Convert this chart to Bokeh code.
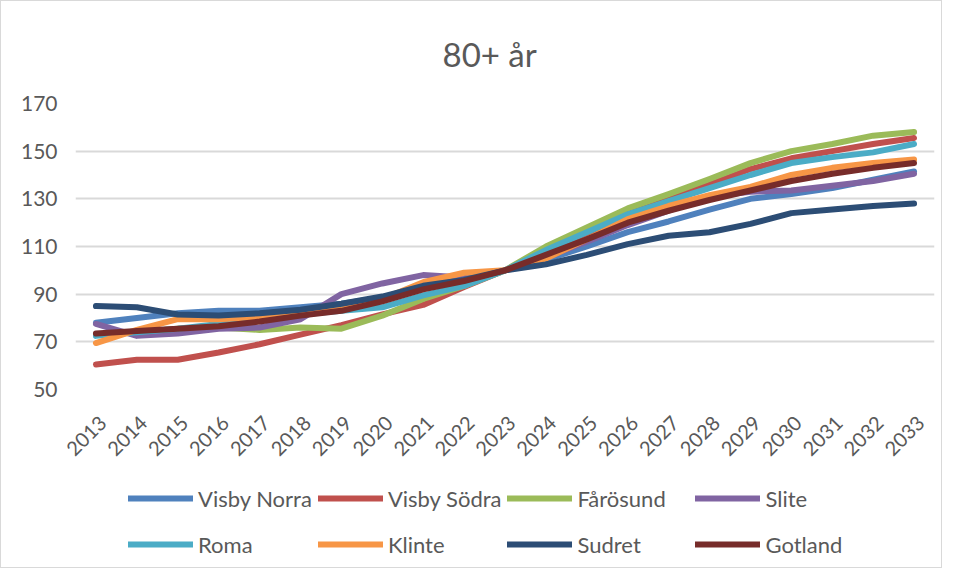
import math
from bokeh.plotting import figure
from bokeh.layouts import column
from bokeh.models import Range1d, Legend, LegendItem, FixedTicker, LinearAxis
from bokeh.embed import file_html
from bokeh.resources import INLINE

years = [str(y) for y in range(2013, 2034)]
y_ticks = [50, 70, 90, 110, 130, 150, 170]

visby_norra = [78, 80, 82, 83, 83, 84.5, 86, 88.5, 93.5, 96.5, 100, 104.5, 110, 116, 120.5, 125.5, 130, 132, 134.5, 138, 141.5]
visby_sodra = [60.5, 62.5, 62.5, 65.5, 69, 73, 77, 81.5, 85.5, 93, 100, 107, 115, 124.5, 130, 136, 142.5, 147, 150, 153, 155.5]
farosund = [73, 74, 75.5, 76, 75, 76, 75.5, 81, 88, 93.5, 100, 110, 118, 126, 132, 138.3, 145, 150, 153, 156.5, 158]
slite = [77.5, 72.5, 73.5, 75.5, 76, 79.5, 90, 94.5, 98, 97, 100, 105.5, 112, 119, 125, 131, 133, 133.5, 135.5, 137.5, 140.5]
roma = [72.5, 74, 75.5, 77.5, 80, 81.5, 83, 84.5, 89.5, 93.5, 100, 108.5, 116, 123.5, 129, 134.5, 140, 145, 147.5, 149.5, 153]
klinte = [69.5, 75, 79.5, 79.5, 80.5, 82, 83.5, 88, 95, 99, 100, 105, 113, 121.5, 127, 131.5, 135, 140, 143, 145, 146.5]
sudret = [85, 84.5, 81.5, 81, 82, 83.5, 86, 89, 93.5, 96, 100, 102.5, 106.5, 111, 114.5, 116, 119.5, 124, 125.5, 127, 128]
gotland = [73.5, 74.5, 75.5, 76.5, 78.5, 81, 83, 87, 92, 95.5, 100, 106.5, 113, 120, 125, 129.5, 133.5, 137.5, 140.5, 143, 145]

series_names = ["Visby Norra", "Visby Södra", "Fårösund", "Slite", "Roma", "Klinte", "Sudret", "Gotland"]
series_values = [visby_norra, visby_sodra, farosund, slite, roma, klinte, sudret, gotland]
colors = ["#4F81BD", "#C0504D", "#9BBB59", "#8064A2", "#4BACC6", "#F79646", "#2C4D75", "#772C2A"]

FONT = "Lato"
TXT = "#595959"

x_idx = list(range(len(years)))  # category positions of the years

p = figure(x_range=Range1d(-0.5, len(years) - 0.5), y_range=Range1d(50, 170),
           frame_width=859, frame_height=286, output_backend="svg", toolbar_location=None,
           min_border_left=74, min_border_right=7, min_border_top=101, min_border_bottom=82)

p.title.text = "80+ år"
p.title.align = "left"
p.title.offset = 367
p.title.vertical_align = "bottom"
p.title.standoff = 60
p.title.text_font = FONT
p.title.text_font_size = "33px"
p.title.text_font_style = "normal"
p.title.text_color = TXT

p.outline_line_color = None
p.xgrid.grid_line_color = None
p.ygrid.grid_line_color = "#D9D9D9"
p.ygrid.grid_line_width = 2

p.yaxis.ticker = FixedTicker(ticks=y_ticks)
p.yaxis.axis_line_color = None
p.yaxis.major_tick_line_color = None
p.yaxis.minor_tick_line_color = None
p.yaxis.major_tick_out = 0
p.yaxis.major_tick_in = 0
p.yaxis.major_label_standoff = 18
p.yaxis.major_label_text_font = FONT
p.yaxis.major_label_text_font_size = "21px"
p.yaxis.major_label_text_color = TXT

# year labels: an axis whose range is shifted slightly, as Excel offsets rotated labels
p.xaxis.visible = False
shift = 0.17
p.extra_x_ranges = {"lab": Range1d(-0.5 - shift, len(years) - 0.5 - shift)}
lab_axis = LinearAxis(x_range_name="lab",
                      ticker=FixedTicker(ticks=x_idx),
                      major_label_overrides={i: y for i, y in zip(x_idx, years)})
lab_axis.axis_line_color = None
lab_axis.major_tick_line_color = None
lab_axis.minor_tick_line_color = None
lab_axis.major_tick_out = 0
lab_axis.major_tick_in = 0
lab_axis.major_label_standoff = 30
lab_axis.major_label_orientation = math.pi / 4
lab_axis.major_label_text_font = FONT
lab_axis.major_label_text_font_size = "20px"
lab_axis.major_label_text_color = TXT
p.add_layout(lab_axis, "below")

for name, vals, c in zip(series_names, series_values, colors):
    p.line(x=x_idx, y=vals, line_color=c, line_width=6, line_cap="round", line_join="round")

# legend strip below the chart (its series lie outside this strip's view; only the key shows)
lg = figure(width=940, height=96, x_range=Range1d(-1000, -999), y_range=Range1d(-1000, -999),
            x_axis_type=None, y_axis_type=None, output_backend="svg",
            toolbar_location=None, min_border=0)
lg.outline_line_color = None
items = []
for name, vals, c in zip(series_names, series_values, colors):
    r = lg.line(x=x_idx, y=vals, line_color=c, line_width=6, line_cap="round")
    items.append(LegendItem(label=name, renderers=[r]))

legend = Legend(items=items, orientation="horizontal", ncols=4,
                label_text_font=FONT, label_text_font_size="22px", label_text_color=TXT,
                glyph_width=65, glyph_height=40, label_standoff=5, spacing=6,
                label_width=112, margin=0, padding=0,
                border_line_color=None, background_fill_alpha=0, location=(53, 3))
lg.add_layout(legend, "center")

layout = column(p, lg, spacing=0)
layout.styles = {"border": "1px solid #D9D9D9"}

open("out.html", "w").write(file_html(layout, INLINE))
